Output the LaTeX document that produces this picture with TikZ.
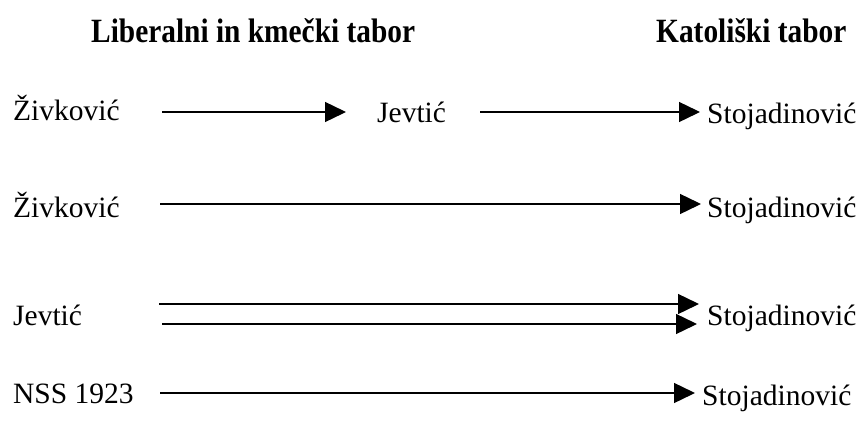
\documentclass[tikz,border=0pt]{standalone}
\usepackage{fontspec}
\setmainfont{Liberation Serif}
\usetikzlibrary{arrows.meta}
\begin{document}
\begin{tikzpicture}[x=1pt,y=-1pt,
  lbl/.style={anchor=base west,inner sep=0pt,font=\fontsize{29.5}{34}\selectfont},
  hdr/.style={anchor=base west,inner sep=0pt,font=\fontsize{34}{40}\selectfont\bfseries,xscale=0.864,transform shape},
  arr/.style={line width=1.4pt,-{Triangle[length=21pt,width=20pt]}}]
\useasboundingbox (0,0) rectangle (868,423);
% headers
\node[hdr] (h1) at (91,42) {Liberalni in kmečki tabor};
\node[hdr] (h2) at (656,42) {Katoliški tabor};
% row 1
\node[lbl] (z1) at (13,120) {Živković};
\node[lbl] (j1) at (377,122) {Jevtić};
\node[lbl] (s1) at (707,123) {Stojadinović};
\coordinate (a1s) at (162,112); \coordinate (a1e) at (346,112);
\coordinate (a2s) at (480,112); \coordinate (a2e) at (700,112);
\draw[arr] (a1s) -- (a1e);
\draw[arr] (a2s) -- (a2e);
% row 2
\node[lbl] (z2) at (13,217) {Živković};
\node[lbl] (s2) at (707,217) {Stojadinović};
\coordinate (b1s) at (160,204); \coordinate (b1e) at (701,204);
\draw[arr] (b1s) -- (b1e);
% row 3
\node[lbl] (j3) at (13,325) {Jevtić};
\node[lbl] (s3) at (707,325) {Stojadinović};
\coordinate (c1s) at (159,304); \coordinate (c1e) at (699,304);
\coordinate (c2s) at (162,324); \coordinate (c2e) at (697,324);
\draw[arr] (c1s) -- (c1e);
\draw[arr] (c2s) -- (c2e);
% row 4
\node[lbl] (n4) at (13,403) {NSS 1923};
\node[lbl] (s4) at (702,405) {Stojadinović};
\coordinate (d1s) at (160,393); \coordinate (d1e) at (695,393);
\draw[arr] (d1s) -- (d1e);
\end{tikzpicture}
\end{document}
